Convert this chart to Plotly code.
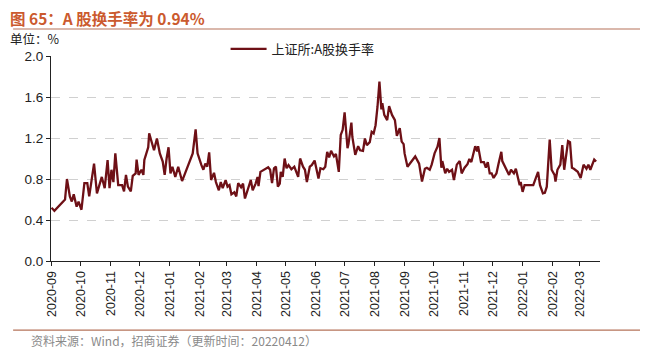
import plotly.graph_objects as go

dates = [
"2020-09-01","2020-09-04","2020-09-15","2020-09-17","2020-09-20","2020-09-22","2020-09-24","2020-09-27","2020-09-29","2020-10-02",
"2020-10-05","2020-10-08","2020-10-10","2020-10-15","2020-10-18","2020-10-23","2020-10-26","2020-10-29","2020-10-31","2020-11-02",
"2020-11-04","2020-11-06","2020-11-09","2020-11-13","2020-11-15","2020-11-17","2020-11-19","2020-11-22","2020-11-24","2020-11-27",
"2020-11-28","2020-11-30","2020-12-03","2020-12-05","2020-12-06","2020-12-10","2020-12-11","2020-12-14","2020-12-16","2020-12-19",
"2020-12-22","2020-12-25","2020-12-27","2020-12-29","2020-12-31","2021-01-02","2021-01-04","2021-01-07","2021-01-10","2021-01-14",
"2021-01-20","2021-01-25","2021-01-28","2021-01-30","2021-02-03","2021-02-05","2021-02-07","2021-02-09","2021-02-11","2021-02-13",
"2021-02-16","2021-02-18","2021-02-21","2021-02-23","2021-02-25","2021-02-28","2021-03-02","2021-03-04","2021-03-06","2021-03-09",
"2021-03-11","2021-03-13","2021-03-16","2021-03-18","2021-03-20","2021-03-23","2021-03-26","2021-03-28","2021-03-31","2021-04-02",
"2021-04-03","2021-04-05","2021-04-09","2021-04-13","2021-04-15","2021-04-17","2021-04-19","2021-04-21","2021-04-23","2021-04-25",
"2021-04-26","2021-04-28","2021-04-30","2021-05-02","2021-05-04","2021-05-07","2021-05-10","2021-05-12","2021-05-14","2021-05-16",
"2021-05-19","2021-05-21","2021-05-23","2021-05-26","2021-05-28","2021-05-31","2021-06-02","2021-06-04","2021-06-06","2021-06-09",
"2021-06-11","2021-06-13","2021-06-15","2021-06-17","2021-06-20","2021-06-22","2021-06-25","2021-06-27","2021-06-29","2021-07-01",
"2021-07-04","2021-07-05","2021-07-08","2021-07-09","2021-07-12","2021-07-15","2021-07-17","2021-07-20","2021-07-22","2021-07-24",
"2021-07-27","2021-07-29","2021-07-31","2021-08-02","2021-08-04","2021-08-06","2021-08-08","2021-08-09","2021-08-11","2021-08-14",
"2021-08-16","2021-08-19","2021-08-22","2021-08-24","2021-08-27","2021-08-29","2021-08-31","2021-09-01","2021-09-04","2021-09-08",
"2021-09-12","2021-09-16","2021-09-19","2021-09-22","2021-09-24","2021-09-27","2021-09-29","2021-10-02","2021-10-05","2021-10-07",
"2021-10-09","2021-10-10","2021-10-13","2021-10-15","2021-10-17","2021-10-20","2021-10-22","2021-10-25","2021-10-28","2021-10-30",
"2021-11-02","2021-11-05","2021-11-07","2021-11-09","2021-11-12","2021-11-13","2021-11-15","2021-11-16","2021-11-19","2021-11-22",
"2021-11-24","2021-11-26","2021-11-28","2021-11-30","2021-12-02","2021-12-05","2021-12-07","2021-12-10","2021-12-11","2021-12-14",
"2021-12-16","2021-12-18","2021-12-20","2021-12-23","2021-12-25","2021-12-27","2021-12-29","2021-12-30","2022-01-01","2022-01-03",
"2022-01-12","2022-01-17","2022-01-19","2022-01-22","2022-01-24","2022-01-26","2022-01-29","2022-01-31","2022-02-03","2022-02-04",
"2022-02-06","2022-02-09","2022-02-11","2022-02-13","2022-02-17","2022-02-19","2022-02-21","2022-02-23","2022-02-27","2022-03-02",
"2022-03-05","2022-03-08","2022-03-10","2022-03-12","2022-03-14","2022-03-16","2022-03-18",
]

turnover = [
0.52,0.49,0.60,0.80,0.63,0.58,0.65,0.53,0.58,0.50,
0.76,0.76,0.63,0.95,0.66,0.82,0.71,0.985,0.71,0.89,
0.77,1.05,0.74,0.74,0.68,0.84,0.725,0.68,0.83,0.855,
0.99,0.84,0.89,0.84,0.985,1.11,1.245,1.13,1.08,1.195,
1.05,0.97,0.84,1.00,1.11,0.855,0.92,0.82,0.92,0.78,
0.92,1.05,1.285,1.05,0.935,0.89,0.95,0.92,1.06,0.79,
0.86,0.77,0.69,0.77,0.71,0.79,0.725,0.74,0.65,0.67,
0.63,0.76,0.72,0.755,0.61,0.71,0.79,0.69,0.755,0.82,
0.73,0.87,0.895,0.915,0.89,0.76,0.905,0.92,0.725,0.755,
0.87,0.82,1.00,0.905,0.935,0.895,0.92,0.87,0.82,1.00,
0.92,0.89,0.77,0.92,0.935,0.98,0.905,0.805,0.905,0.895,
0.92,1.065,1.01,1.075,1.02,1.045,0.87,1.23,1.28,1.45,
1.10,1.14,1.35,1.21,1.035,1.12,1.08,1.075,1.195,1.13,
1.16,1.26,1.245,1.325,1.505,1.75,1.48,1.54,1.425,1.375,
1.51,1.425,1.375,1.22,1.295,1.165,1.14,1.05,0.92,0.97,
1.02,0.95,0.775,0.90,0.91,0.89,0.94,1.05,1.115,1.20,
0.91,0.975,0.855,0.90,0.87,0.89,0.79,0.94,0.975,0.855,
0.91,0.945,0.995,0.965,1.085,1.12,1.07,1.12,0.965,0.965,
0.91,0.965,0.855,0.855,0.81,0.855,0.945,1.065,0.975,0.91,
0.88,0.84,0.89,0.855,0.90,0.82,0.74,0.77,0.675,0.74,
0.74,0.87,0.74,0.66,0.665,0.725,1.185,0.89,0.84,0.775,
0.89,0.94,1.13,0.89,1.17,1.16,0.91,0.90,0.87,0.81,
0.94,0.90,0.94,0.89,0.945,0.99,0.97,
]

series_name = "上证所:A股换手率"
title_text = "图 65：A 股换手率为 0.94%"
unit_text = "单位：%"
source_text = "资料来源：Wind，招商证券（更新时间：20220412）"
y_ticks = [0.0, 0.4, 0.8, 1.2, 1.6, 2.0]

fig = go.Figure()
fig.add_trace(go.Scatter(
    x=dates, y=turnover, mode="lines", name=series_name,
    line=dict(color="#6E1016", width=2.3),
))

cjk = "Noto Sans CJK SC, Liberation Sans, sans-serif"

fig.update_layout(
    width=640, height=348,
    margin=dict(l=43, r=48, t=48, b=95, autoexpand=False),
    paper_bgcolor="white", plot_bgcolor="white",
    showlegend=True,
    legend=dict(x=0.318, y=1.035, xanchor="left", yanchor="middle",
                font=dict(family=cjk, size=13, color="#222"),
                bgcolor="rgba(0,0,0,0)", itemwidth=36),
    font=dict(family="Liberation Sans, Arial, sans-serif", color="#222"),
)

fig.update_xaxes(
    type="date", automargin=False,
    range=["2020-08-31 12:00", "2022-03-22"],
    tickformat="%Y-%m", dtick="M1", tick0="2020-09-01",
    tickangle=-90, tickfont=dict(size=12.5, color="#222"),
    ticks="outside", ticklen=4, tickcolor="#222",
    showline=True, linecolor="#222", linewidth=1,
    showgrid=False, zeroline=False,
)
fig.update_yaxes(
    range=[0, 2.0], tickvals=y_ticks, automargin=False,
    ticktext=[f"{v:.1f}" for v in y_ticks],
    tickfont=dict(size=13.5, color="#222"),
    ticks="outside", ticklen=4, tickcolor="#222",
    showline=True, linecolor="#222", linewidth=1,
    showgrid=True, gridcolor="#D0D0D0", griddash="dash", gridwidth=1,
    zeroline=False,
)

fig.add_annotation(text=f"<b>{title_text}</b>", xref="paper", yref="paper",
                   x=-0.076, y=1.1878, xanchor="left", yanchor="middle", borderpad=0,
                   showarrow=False, font=dict(family=cjk, size=15.5, color="#CB5A2E"))
fig.add_annotation(text=unit_text, xref="paper", yref="paper",
                   x=-0.076, y=1.083, xanchor="left", yanchor="middle", borderpad=0,
                   showarrow=False, font=dict(family=cjk, size=12.5, color="#222"))
fig.add_annotation(text=source_text, xref="paper", yref="paper",
                   x=-0.04, y=-0.39, xanchor="left", yanchor="middle",
                   showarrow=False, font=dict(family=cjk, size=12, color="#8A8A8A"))

fig.add_shape(type="line", xref="paper", yref="paper",
              x0=-0.069, x1=1.075, y0=1.1317, y1=1.1317,
              line=dict(color="#B5735A", width=1.2))
fig.add_shape(type="line", xref="paper", yref="paper",
              x0=-0.069, x1=1.075, y0=-0.337, y1=-0.337,
              line=dict(color="#B5735A", width=1.2))

fig.write_html("out.html")
